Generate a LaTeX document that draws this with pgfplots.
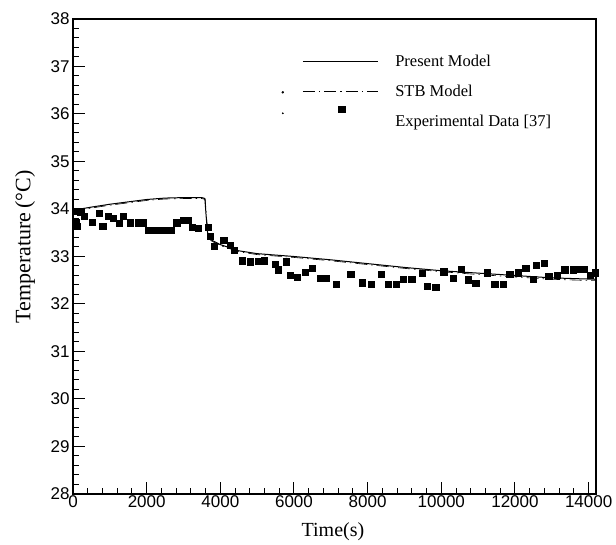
\documentclass[border=0pt]{standalone}
\usepackage{fontspec}
\setmainfont{Liberation Serif}
\setsansfont{Liberation Sans}
\usepackage{pgfplots}
\pgfplotsset{compat=1.18}
\pgfplotsset{
  legA/.style={legend image code/.code={\draw[##1] (0pt,0pt) -- (75pt,0pt);}},
  legB/.style={legend image code/.code={\draw[##1] (0pt,0pt) -- (75pt,0pt); \fill[black,overlay] (-20pt,-1pt) circle (0.9pt);}},
  legC/.style={legend image code/.code={\path[draw=none,fill=none] (0pt,0pt) -- (75pt,0pt); \draw[##1,overlay] plot coordinates {(39pt,12pt)}; \fill[black,overlay] (-20pt,8pt) circle (0.7pt);}},
}
\begin{document}
\begin{tikzpicture}
\useasboundingbox (-73pt,-51pt) rectangle (543pt,494pt);
\begin{axis}[
  scale only axis, width=523pt, height=475pt,
  xmin=0, xmax=14200, ymin=28, ymax=38,
  xtick={0,2000,...,14000}, ytick={28,29,...,38},
  scaled x ticks=false,
  minor x tick num=4, minor y tick num=4,
  tick align=inside, tick pos=left,
  major tick length=12pt, minor tick length=6pt,
  every tick/.style={black, line width=1pt},
  axis line style={line width=1.3pt},
  /pgf/number format/1000 sep={},
  /pgf/number format/assume math mode=true,
  tick label style={font=\fontsize{17}{17}\selectfont\sffamily},
  xticklabel style={yshift=2pt},
  xlabel={Time(s)}, ylabel={Temperature\,(°C)},
  every axis x label/.style={at={(axis description cs:0.497,0)}, anchor=center, yshift=-38pt, font=\fontsize{20}{20}\selectfont},
  every axis y label/.style={at={(axis description cs:-0.0918,0.52)}, rotate=90, anchor=center, font=\fontsize{22}{22}\selectfont},
  legend style={at={(axis description cs:0.438,0.929)}, anchor=north west, draw=none, fill=none, inner sep=0pt, row sep=13pt, font=\fontsize{16.5}{16.5}\selectfont, /tikz/every odd column/.style={column sep=15pt}},
  legend cell align=left,
]
\addplot[black, line width=1pt, legA] coordinates {
(0,33.97)(200,34.0)(500,34.04)(1000,34.1)(1500,34.15)(2000,34.2)(2500,34.23)(3000,34.24)(3500,34.24)(3580,34.22)(3620,33.8)(3660,33.45)(3750,33.35)(4000,33.25)(4500,33.12)(5000,33.06)(6000,33.0)(7000,32.93)(8000,32.85)(9000,32.77)(10000,32.7)(11000,32.65)(12000,32.6)(13000,32.55)(14200,32.52)};
\addlegendentry{Present Model}
\addplot[black, line width=0.6pt, dash pattern=on 12pt off 4pt on 1.5pt off 4pt, legB] coordinates {
(0,33.95)(200,33.98)(500,34.02)(1000,34.08)(1500,34.13)(2000,34.18)(2500,34.21)(3000,34.22)(3500,34.22)(3590,34.2)(3630,33.78)(3670,33.43)(3750,33.33)(4000,33.23)(4500,33.1)(5000,33.04)(6000,32.98)(7000,32.91)(8000,32.83)(9000,32.75)(10000,32.68)(11000,32.62)(12000,32.57)(13000,32.52)(14200,32.49)};
\addlegendentry{STB Model}
\addplot[only marks, mark=square*, mark size=3.1pt, black, legC] coordinates {
(81,33.73)(90,33.95)(100,33.64)(209,33.94)(298,33.85)(525,33.73)(715,33.91)(805,33.63)(959,33.85)(1094,33.80)(1257,33.70)(1366,33.85)(1546,33.71)(1772,33.71)(1908,33.71)
(2050,33.56)(2200,33.56)(2350,33.56)(2500,33.56)(2650,33.56)
(2813,33.71)(2994,33.76)(3130,33.76)(3247,33.61)(3400,33.59)(3671,33.61)(3725,33.43)(3840,33.21)(4090,33.35)(4259,33.24)(4370,33.14)
(4604,32.91)(4821,32.89)(5028,32.90)(5182,32.91)(5480,32.84)(5570,32.72)(5779,32.89)(5887,32.61)(6085,32.56)(6294,32.67)(6502,32.76)(6701,32.54)(6882,32.54)
(7154,32.41)(7542,32.62)(7849,32.45)(8104,32.41)(8375,32.62)(8556,32.41)(8782,32.41)(8970,32.53)(9197,32.53)(9476,32.65)(9622,32.38)(9848,32.35)
(10065,32.68)(10318,32.54)(10545,32.73)(10724,32.51)(10933,32.44)(11240,32.66)(11449,32.41)(11675,32.41)(11856,32.63)(12082,32.66)(12290,32.76)(12488,32.52)(12580,32.81)(12786,32.86)(12914,32.59)(13150,32.60)(13348,32.72)(13575,32.72)(13711,32.74)(13874,32.74)(14045,32.61)(14180,32.66)};
\addlegendentry{Experimental Data [37]}
\end{axis}
\end{tikzpicture}
\end{document}
